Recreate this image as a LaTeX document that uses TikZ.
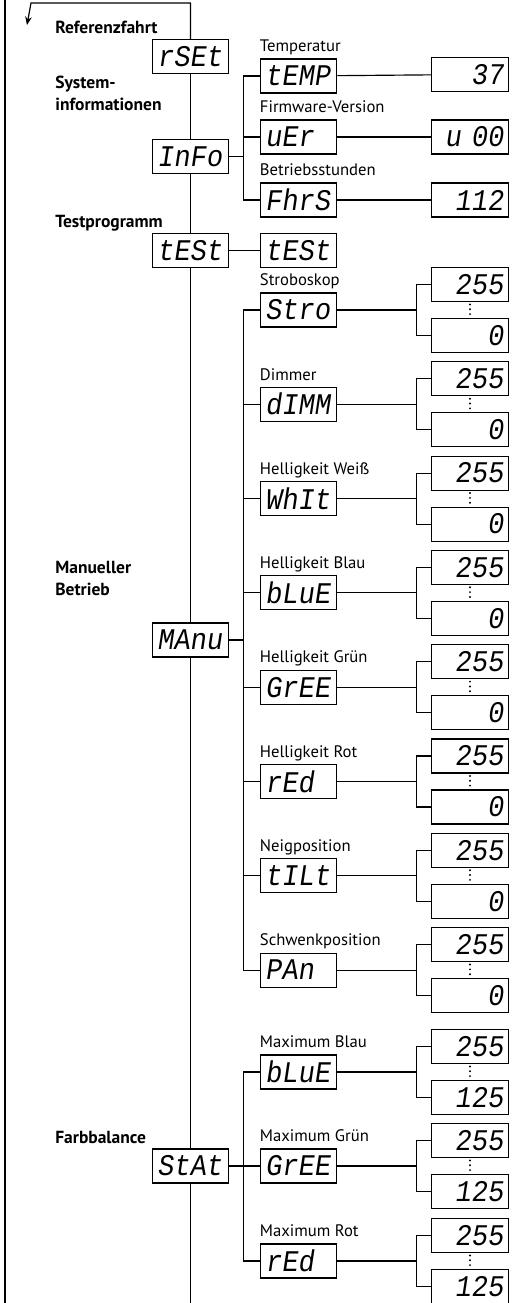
\documentclass[tikz,border=0pt]{standalone}
\usepackage{fontspec}
\setmainfont{PT Sans}
\newfontfamily\segfont{Liberation Mono}[FakeSlant=0.15, FakeStretch=0.9]
\usetikzlibrary{positioning,arrows.meta}

\begin{document}
\begin{tikzpicture}[x=0.6pt, y=-0.6pt,
  disp/.style={draw, fill=white, line width=0.7pt, minimum height=20.4pt,
    text width=40pt, inner xsep=3pt, inner ysep=0pt,
    font=\segfont\fontsize{18}{18}\selectfont, align=left},
  dval/.style={disp, align=right},
  mlabel/.style={font=\fontsize{10.5}{13.2}\selectfont\bfseries, align=left,
    anchor=base west, inner sep=0pt},
  slabel/.style={font=\fontsize{10}{11}\selectfont, anchor=base west, inner sep=0pt},
  conn/.style={line width=0.7pt},
  dotcol/.style={line width=1.3pt, dash pattern=on 0pt off 2.9pt, line cap=round,
    shorten >=1.4pt, shorten <=1.4pt},
]
  \useasboundingbox (0,0) rectangle (517,1303);

  % loop back to the top
  \coordinate (ltop) at (5,-5);
  \coordinate (lbot) at (5,1310);
  \coordinate (corner) at (31,3);
  \coordinate (tip) at (27,25);
  \coordinate (bot) at (190.5,1310);
  \draw[conn] (ltop) -- (lbot);

  % main menu
  \node[mlabel] (lref) at (55,33) {Referenzfahrt};
  \node[disp] (rset) at (190.5,56.5) {rSEt};
  \node[mlabel] (linfo) at (55,110) {System-\\informationen};
  \node[disp] (info) at (190.5,156.5) {InFo};
  \node[mlabel] (ltest) at (55,227) {Testprogramm};
  \node[disp] (test) at (190.5,250.5) {tESt};
  \node[mlabel] (lmanu) at (55,595) {Manueller\\Betrieb};
  \node[disp] (manu) at (190.5,640) {MAnu};
  \node[mlabel] (lstat) at (55,1143) {Farbbalance};
  \node[disp] (stat) at (190.5,1166) {StAt};

  \draw[conn, -{Stealth[length=5pt, width=4pt]}] (rset.north) |- (corner) -- (tip);
  \draw[conn] (rset) -- (info) -- (test) -- (manu) -- (stat) -- (bot);

  % system information
  \node[disp] (temp) at (298.5,76) {tEMP};
  \node[slabel] (ltemp) at ([yshift=4pt]temp.north west) {Temperatur};
  \node[disp] (vers) at (298.5,137) {uEr};
  \node[slabel] (lvers) at ([yshift=4pt]vers.north west) {Firmware-Version};
  \node[disp] (fhrs) at (298.5,200) {FhrS};
  \node[slabel] (lfhrs) at ([yshift=4pt]fhrs.north west) {Betriebsstunden};
  \node[dval] (tval) at (470,74.5) {37};
  \node[dval] (vval) at (470,137) {u 00};
  \node[dval] (hval) at (470,200) {112};

  \draw[conn] (info.east) -- ++(14,0) |- (temp.west);
  \draw[conn] (info.east) -- ++(14,0) |- (vers.west);
  \draw[conn] (info.east) -- ++(14,0) |- (fhrs.west);
  \draw[conn] (temp) -- (tval); \draw[conn] (vers) -- (vval);
  \draw[conn] (fhrs) -- (hval);

  % test program
  \node[disp] (tst2) at (298.5,250.5) {tESt};
  \draw[conn] (test) -- (tst2);

  % manual mode
  \node[disp] (stro) at (298.5,310) {Stro};
  \node[slabel] (lstro) at ([yshift=4pt]stro.north west) {Stroboskop};
  \node[dval] (strohi) at (470,284.5) {255};
  \node[dval] (strolo) at (470,335.5) {0};

  \node[disp] (dimm) at (298.5,404.3) {dIMM};
  \node[slabel] (ldimm) at ([yshift=4pt]dimm.north west) {Dimmer};
  \node[dval] (dimmhi) at (470,378.8) {255};
  \node[dval] (dimmlo) at (470,429.8) {0};

  \node[disp] (whit) at (298.5,498.6) {WhIt};
  \node[slabel] (lwhit) at ([yshift=4pt]whit.north west) {Helligkeit Weiß};
  \node[dval] (whithi) at (470,473.1) {255};
  \node[dval] (whitlo) at (470,524.1) {0};

  \node[disp] (blue) at (298.5,592.9) {bLuE};
  \node[slabel] (lblue) at ([yshift=4pt]blue.north west) {Helligkeit Blau};
  \node[dval] (bluehi) at (470,567.4) {255};
  \node[dval] (bluelo) at (470,618.4) {0};

  \node[disp] (gree) at (298.5,687.2) {GrEE};
  \node[slabel] (lgree) at ([yshift=4pt]gree.north west) {Helligkeit Grün};
  \node[dval] (greehi) at (470,661.7) {255};
  \node[dval] (greelo) at (470,712.7) {0};

  \node[disp] (red) at (298.5,781.5) {rEd};
  \node[slabel] (lred) at ([yshift=4pt]red.north west) {Helligkeit Rot};
  \node[dval] (redhi) at (470,756) {255};
  \node[dval] (redlo) at (470,807) {0};

  \node[disp] (tilt) at (298.5,875.8) {tILt};
  \node[slabel] (ltilt) at ([yshift=4pt]tilt.north west) {Neigposition};
  \node[dval] (tilthi) at (470,850.3) {255};
  \node[dval] (tiltlo) at (470,901.3) {0};

  \node[disp] (pan) at (298.5,970.1) {PAn};
  \node[slabel] (lpan) at ([yshift=4pt]pan.north west) {Schwenkposition};
  \node[dval] (panhi) at (470,944.6) {255};
  \node[dval] (panlo) at (470,995.6) {0};

  \draw[conn] (manu.east) -- ++(14,0) |- (stro.west);
  \draw[conn] (manu.east) -- ++(14,0) |- (dimm.west);
  \draw[conn] (manu.east) -- ++(14,0) |- (whit.west);
  \draw[conn] (manu.east) -- ++(14,0) |- (blue.west);
  \draw[conn] (manu.east) -- ++(14,0) |- (gree.west);
  \draw[conn] (manu.east) -- ++(14,0) |- (red.west);
  \draw[conn] (manu.east) -- ++(14,0) |- (tilt.west);
  \draw[conn] (manu.east) -- ++(14,0) |- (pan.west);

  \draw[conn] (stro.east) -- ++(79,0) |- (strohi.west); \draw[conn] (stro.east) -- ++(79,0) |- (strolo.west);
  \draw[conn] (dimm.east) -- ++(79,0) |- (dimmhi.west); \draw[conn] (dimm.east) -- ++(79,0) |- (dimmlo.west);
  \draw[conn] (whit.east) -- ++(79,0) |- (whithi.west); \draw[conn] (whit.east) -- ++(79,0) |- (whitlo.west);
  \draw[conn] (blue.east) -- ++(79,0) |- (bluehi.west); \draw[conn] (blue.east) -- ++(79,0) |- (bluelo.west);
  \draw[conn] (gree.east) -- ++(79,0) |- (greehi.west); \draw[conn] (gree.east) -- ++(79,0) |- (greelo.west);
  \draw[conn] (red.east) -- ++(79,0) |- (redhi.west); \draw[conn] (red.east) -- ++(79,0) |- (redlo.west);
  \draw[conn] (tilt.east) -- ++(79,0) |- (tilthi.west); \draw[conn] (tilt.east) -- ++(79,0) |- (tiltlo.west);
  \draw[conn] (pan.east) -- ++(79,0) |- (panhi.west); \draw[conn] (pan.east) -- ++(79,0) |- (panlo.west);

  \draw[dotcol] (strohi) -- (strolo); \draw[dotcol] (dimmhi) -- (dimmlo);
  \draw[dotcol] (whithi) -- (whitlo); \draw[dotcol] (bluehi) -- (bluelo);
  \draw[dotcol] (greehi) -- (greelo); \draw[dotcol] (redhi) -- (redlo);
  \draw[dotcol] (tilthi) -- (tiltlo); \draw[dotcol] (panhi) -- (panlo);

  % colour balance
  \node[disp] (mblue) at (298.5,1072) {bLuE};
  \node[slabel] (lmblue) at ([yshift=4pt]mblue.north west) {Maximum Blau};
  \node[dval] (mbluehi) at (470,1046.5) {255};
  \node[dval] (mbluelo) at (470,1097.5) {125};

  \node[disp] (mgree) at (298.5,1166) {GrEE};
  \node[slabel] (lmgree) at ([yshift=4pt]mgree.north west) {Maximum Grün};
  \node[dval] (mgreehi) at (470,1140.5) {255};
  \node[dval] (mgreelo) at (470,1191.5) {125};

  \node[disp] (mred) at (298.5,1261) {rEd};
  \node[slabel] (lmred) at ([yshift=4pt]mred.north west) {Maximum Rot};
  \node[dval] (mredhi) at (470,1235.5) {255};
  \node[dval] (mredlo) at (470,1286.5) {125};

  \draw[conn] (stat.east) -- ++(14,0) |- (mblue.west);
  \draw[conn] (stat.east) -- ++(14,0) |- (mgree.west);
  \draw[conn] (stat.east) -- ++(14,0) |- (mred.west);

  \draw[conn] (mblue.east) -- ++(79,0) |- (mbluehi.west); \draw[conn] (mblue.east) -- ++(79,0) |- (mbluelo.west);
  \draw[conn] (mgree.east) -- ++(79,0) |- (mgreehi.west); \draw[conn] (mgree.east) -- ++(79,0) |- (mgreelo.west);
  \draw[conn] (mred.east) -- ++(79,0) |- (mredhi.west); \draw[conn] (mred.east) -- ++(79,0) |- (mredlo.west);

  \draw[dotcol] (mbluehi) -- (mbluelo); \draw[dotcol] (mgreehi) -- (mgreelo);
  \draw[dotcol] (mredhi) -- (mredlo);
\end{tikzpicture}
\end{document}
